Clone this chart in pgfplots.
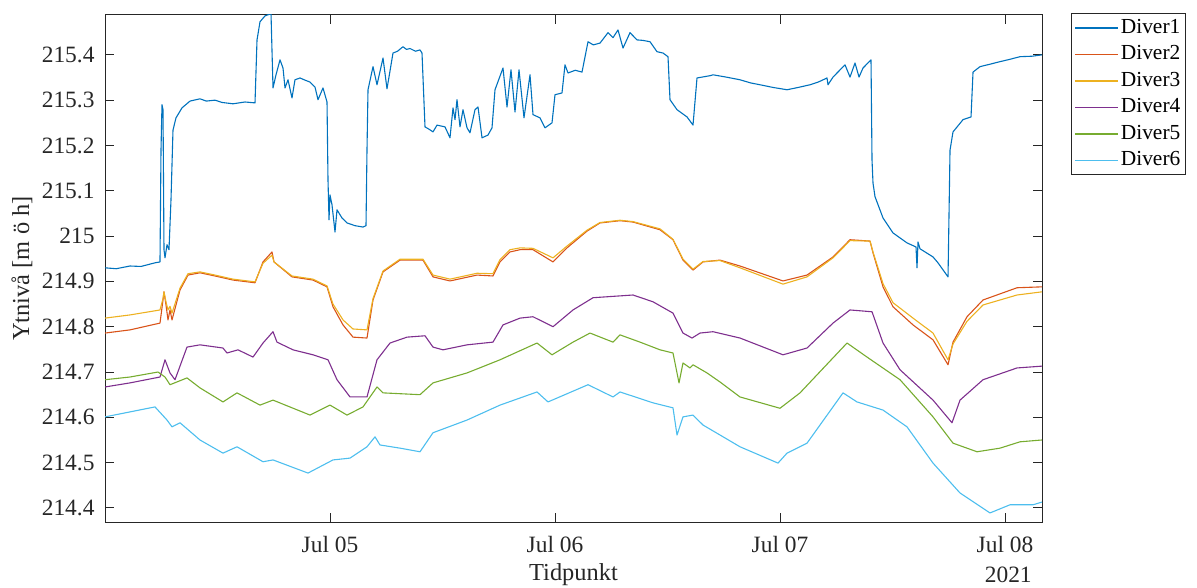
\documentclass[border=0pt]{standalone}
\usepackage{pgfplots}
\pgfplotsset{compat=1.18}
\usepackage{fontspec}
\setmainfont{Liberation Serif}
\definecolor{c1}{HTML}{0072BD}
\definecolor{c2}{HTML}{D95319}
\definecolor{c3}{HTML}{EDB120}
\definecolor{c4}{HTML}{7E2F8E}
\definecolor{c5}{HTML}{77AC30}
\definecolor{c6}{HTML}{4DBEEE}
\definecolor{axgray}{HTML}{262626}
\begin{document}
\begin{tikzpicture}
\path[use as bounding box] (0,0) rectangle (1197bp,588bp);
\begin{axis}[
  at={(105bp,66bp)}, anchor=south west,
  scale only axis, width=937bp, height=507bp,
  clip mode=individual,
  xmin=0, xmax=4.1644, ymin=214.369, ymax=215.488,
  xtick={1,2,3,4}, xticklabels={Jul 05,Jul 06,Jul 07,Jul 08},
  ytick={214.4,214.5,214.6,214.7,214.8,214.9,215,215.1,215.2,215.3,215.4},
  yticklabels={214.4,214.5,214.6,214.7,214.8,214.9,215,215.1,215.2,215.3,215.4},
  tick align=inside, major tick length=9bp,
  axis line style={axgray, line width=1bp},
  every tick/.style={axgray, line width=1bp},
  tick label style={font=\fontsize{23.5}{27}\selectfont, text=axgray},
  xticklabel style={yshift=-11bp},
  yticklabel style={xshift=-7bp},
  xlabel={Tidpunkt}, ylabel={Ytnivå [m ö h]},
  label style={font=\fontsize{24.5}{28}\selectfont, text=axgray},
  xlabel style={at={(axis description cs:0.5,0)}, anchor=center, yshift=-53bp},
  ylabel style={at={(axis description cs:-0.0886,0.5)}, anchor=center},
  legend style={at={(rel axis cs:1.031,1.004)}, anchor=north west,
    draw=axgray, line width=0.8bp, font=\fontsize{21.5}{25}\selectfont,
    inner xsep=3bp, inner ysep=3bp, row sep=3.5bp,
    nodes={inner sep=2bp, text height=15bp, text depth=4bp}},
  legend cell align=left,
  legend image code/.code={\draw[#1, line width=1.4bp] (0bp,0bp) -- (43bp,0bp);},
  every axis plot/.append style={line width=1.1bp, line join=round},
]
\addplot[c1] coordinates {
(0,214.930)(0.05,214.928)(0.111,214.934)(0.16,214.933)(0.222,214.941)(0.2444,214.943)(0.2489,215.190)(0.2533,215.290)(0.2578,215.279)(0.2622,214.970)(0.2667,214.952)(0.2756,214.981)(0.2844,214.970)(0.2933,215.080)(0.3022,215.234)(0.3156,215.261)(0.3422,215.283)(0.3778,215.298)(0.4222,215.303)(0.45,215.298)(0.4889,215.300)(0.52,215.295)(0.5689,215.292)(0.6222,215.296)(0.6667,215.294)(0.6756,215.433)(0.6889,215.473)(0.7111,215.486)(0.7378,215.491)(0.7467,215.327)(0.76,215.356)(0.7778,215.389)(0.7911,215.371)(0.8,215.327)(0.8133,215.345)(0.8311,215.305)(0.8444,215.345)(0.8667,215.349)(0.89,215.344)(0.9111,215.340)(0.9333,215.329)(0.9467,215.301)(0.9689,215.327)(0.9867,215.296)(0.9911,215.124)(0.9956,215.036)(1.0,215.091)(1.0089,215.069)(1.0222,215.009)(1.0311,215.058)(1.0533,215.040)(1.0756,215.029)(1.1111,215.023)(1.1467,215.020)(1.16,215.023)(1.1644,215.190)(1.1689,215.323)(1.1911,215.374)(1.2089,215.334)(1.2356,215.393)(1.2533,215.325)(1.28,215.404)(1.3,215.408)(1.3244,215.418)(1.34,215.412)(1.3556,215.414)(1.38,215.408)(1.4,215.411)(1.4089,215.404)(1.4222,215.241)(1.44,215.236)(1.4578,215.230)(1.4756,215.245)(1.5111,215.241)(1.5333,215.217)(1.5467,215.283)(1.5556,215.257)(1.5644,215.301)(1.5778,215.241)(1.5911,215.279)(1.6089,215.239)(1.6222,215.228)(1.6444,215.279)(1.6578,215.285)(1.6756,215.217)(1.7022,215.223)(1.72,215.239)(1.7333,215.323)(1.7689,215.371)(1.7867,215.285)(1.8044,215.367)(1.8222,215.274)(1.84,215.367)(1.8622,215.261)(1.8889,215.356)(1.9022,215.268)(1.9333,215.261)(1.9556,215.239)(1.9867,215.250)(2.0,215.312)(2.0311,215.316)(2.0444,215.378)(2.0578,215.360)(2.09,215.366)(2.12,215.362)(2.1467,215.429)(2.17,215.422)(2.2,215.426)(2.2356,215.449)(2.2578,215.438)(2.28,215.455)(2.3022,215.415)(2.3333,215.449)(2.3644,215.433)(2.39,215.432)(2.4222,215.429)(2.4533,215.407)(2.48,215.404)(2.5022,215.396)(2.5111,215.301)(2.5422,215.279)(2.5867,215.263)(2.6133,215.245)(2.6311,215.349)(2.6889,215.354)(2.7022,215.356)(2.76,215.351)(2.8222,215.345)(2.87,215.338)(2.9111,215.334)(2.97,215.328)(3.0311,215.323)(3.08,215.328)(3.1333,215.334)(3.17,215.340)(3.2089,215.349)(3.2133,215.334)(3.2356,215.351)(3.2889,215.378)(3.3111,215.351)(3.3333,215.382)(3.3511,215.351)(3.3689,215.371)(3.4044,215.389)(3.4089,215.168)(3.4133,215.117)(3.4222,215.087)(3.4578,215.040)(3.5022,215.007)(3.5644,214.985)(3.6044,214.976)(3.6089,214.930)(3.6133,214.987)(3.6222,214.972)(3.68,214.954)(3.7022,214.941)(3.7467,214.910)(3.7556,215.190)(3.7689,215.230)(3.8133,215.257)(3.8489,215.263)(3.8578,215.362)(3.8889,215.374)(3.93,215.379)(3.9778,215.385)(4.02,215.390)(4.0667,215.396)(4.12,215.397)(4.1644,215.400)
};
\addlegendentry{Diver1}
\addplot[c2] coordinates {
(0,214.786)(0.111,214.793)(0.2444,214.808)(0.2578,214.859)(0.2622,214.877)(0.2711,214.848)(0.28,214.815)(0.2889,214.837)(0.2978,214.815)(0.3333,214.881)(0.3689,214.914)(0.4222,214.919)(0.4889,214.912)(0.5689,214.903)(0.6667,214.897)(0.7022,214.943)(0.7422,214.965)(0.7511,214.943)(0.8311,214.910)(0.9244,214.903)(0.9867,214.888)(1.0133,214.844)(1.0578,214.804)(1.1022,214.777)(1.1644,214.775)(1.1911,214.859)(1.2356,214.921)(1.3111,214.947)(1.4133,214.947)(1.4578,214.910)(1.5333,214.901)(1.6533,214.914)(1.7244,214.912)(1.7556,214.943)(1.8,214.965)(1.8444,214.970)(1.9022,214.970)(1.9911,214.943)(2.0533,214.974)(2.1422,215.011)(2.2,215.029)(2.2889,215.034)(2.3467,215.031)(2.4667,215.014)(2.5244,214.992)(2.5689,214.947)(2.6133,214.925)(2.6578,214.943)(2.7333,214.947)(2.8222,214.934)(3.0133,214.901)(3.12,214.914)(3.2356,214.954)(3.3111,214.992)(3.4,214.989)(3.4133,214.963)(3.4578,214.888)(3.5022,214.844)(3.5911,214.804)(3.68,214.771)(3.7467,214.716)(3.7689,214.766)(3.8311,214.822)(3.9022,214.859)(4.0533,214.886)(4.1644,214.888)
};
\addlegendentry{Diver2}
\addplot[c3] coordinates {
(0,214.819)(0.111,214.826)(0.2444,214.837)(0.2578,214.862)(0.2622,214.877)(0.2711,214.855)(0.28,214.837)(0.2889,214.845)(0.2978,214.830)(0.3333,214.885)(0.3689,214.917)(0.4222,214.921)(0.4889,214.914)(0.5689,214.905)(0.6667,214.899)(0.7022,214.940)(0.7422,214.958)(0.7511,214.943)(0.8311,214.912)(0.9244,214.905)(0.9867,214.890)(1.0133,214.850)(1.0578,214.815)(1.1022,214.795)(1.1644,214.793)(1.1911,214.862)(1.2356,214.923)(1.3111,214.949)(1.4133,214.949)(1.4578,214.914)(1.5333,214.905)(1.6533,214.918)(1.7244,214.917)(1.7556,214.948)(1.8,214.970)(1.8444,214.974)(1.9022,214.973)(1.9911,214.952)(2.0533,214.978)(2.1422,215.013)(2.2,215.030)(2.2889,215.035)(2.3467,215.032)(2.4667,215.016)(2.5244,214.993)(2.5689,214.949)(2.6133,214.927)(2.6578,214.944)(2.7333,214.946)(2.8222,214.930)(3.0133,214.894)(3.12,214.910)(3.2356,214.952)(3.3111,214.990)(3.4,214.989)(3.4133,214.965)(3.4578,214.895)(3.5022,214.853)(3.5911,214.819)(3.68,214.786)(3.7467,214.727)(3.7689,214.762)(3.8311,214.812)(3.9022,214.848)(4.0533,214.870)(4.1644,214.877)
};
\addlegendentry{Diver3}
\addplot[c4] coordinates {
(0,214.667)(0.111,214.676)(0.2444,214.689)(0.2667,214.727)(0.2889,214.698)(0.3111,214.683)(0.3644,214.755)(0.4222,214.760)(0.5244,214.753)(0.5422,214.742)(0.5911,214.749)(0.6578,214.733)(0.7022,214.764)(0.7467,214.789)(0.7644,214.766)(0.8356,214.749)(0.9244,214.738)(0.9911,214.727)(1.0311,214.683)(1.0889,214.645)(1.1644,214.645)(1.2089,214.727)(1.2667,214.764)(1.3422,214.777)(1.4222,214.780)(1.4578,214.755)(1.5022,214.749)(1.6089,214.760)(1.7244,214.766)(1.7689,214.804)(1.8444,214.819)(1.9022,214.822)(1.9911,214.800)(2.08,214.837)(2.1689,214.864)(2.3467,214.870)(2.4356,214.855)(2.5244,214.830)(2.5689,214.786)(2.6089,214.775)(2.6444,214.786)(2.7022,214.789)(2.8222,214.775)(3.0133,214.738)(3.12,214.753)(3.2356,214.808)(3.3111,214.837)(3.4089,214.833)(3.4578,214.764)(3.5333,214.705)(3.68,214.638)(3.7644,214.588)(3.8,214.638)(3.9022,214.683)(4.0533,214.709)(4.1644,214.713)
};
\addlegendentry{Diver4}
\addplot[c5] coordinates {
(0,214.683)(0.111,214.689)(0.2356,214.700)(0.2667,214.689)(0.2889,214.672)(0.3644,214.687)(0.4222,214.665)(0.5244,214.634)(0.5867,214.654)(0.6889,214.627)(0.7467,214.638)(0.9111,214.605)(1.0,214.627)(1.0756,214.605)(1.1467,214.623)(1.2089,214.667)(1.2356,214.654)(1.4,214.650)(1.4578,214.676)(1.6089,214.698)(1.7556,214.727)(1.92,214.764)(1.9867,214.738)(2.08,214.766)(2.1556,214.786)(2.2578,214.766)(2.2889,214.782)(2.3778,214.766)(2.4667,214.749)(2.5244,214.742)(2.5511,214.676)(2.5689,214.720)(2.6,214.709)(2.6133,214.716)(2.6756,214.698)(2.7333,214.678)(2.8222,214.645)(3.0,214.620)(3.0889,214.654)(3.2978,214.764)(3.3867,214.733)(3.5333,214.683)(3.68,214.601)(3.7689,214.543)(3.8756,214.524)(3.9778,214.532)(4.0667,214.546)(4.1644,214.550)
};
\addlegendentry{Diver5}
\addplot[c6] coordinates {
(0,214.601)(0.111,214.612)(0.2222,214.623)(0.2756,214.594)(0.2978,214.579)(0.3333,214.588)(0.4222,214.550)(0.5244,214.521)(0.5867,214.535)(0.7022,214.502)(0.7467,214.506)(0.9022,214.477)(1.0133,214.506)(1.0889,214.510)(1.1644,214.535)(1.2,214.557)(1.2222,214.539)(1.3111,214.532)(1.4,214.524)(1.4578,214.566)(1.6089,214.594)(1.7556,214.627)(1.92,214.656)(1.9689,214.634)(2.1467,214.672)(2.2578,214.645)(2.2889,214.656)(2.4356,214.632)(2.5244,214.621)(2.5422,214.561)(2.5689,214.601)(2.6133,214.605)(2.6578,214.583)(2.7333,214.561)(2.8222,214.535)(2.9911,214.499)(3.0311,214.521)(3.12,214.543)(3.28,214.654)(3.3422,214.634)(3.4578,214.616)(3.5644,214.579)(3.68,214.499)(3.8,214.433)(3.9333,214.389)(4.0222,214.407)(4.1244,214.407)(4.1644,214.413)
};
\addlegendentry{Diver6}
\node[font=\fontsize{23.5}{27}\selectfont, text=axgray] at (rel axis cs:0.964,-0.1045) {2021};
\end{axis}
\end{tikzpicture}
\end{document}
